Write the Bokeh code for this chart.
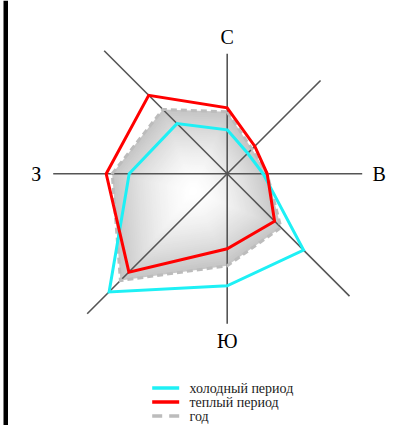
import numpy as np
from bokeh.plotting import figure
from bokeh.models import Range1d
from bokeh.core.properties import value
from bokeh.embed import file_html
from bokeh.resources import INLINE

# Directions (clockwise from north)
directions = ["С", "СВ", "В", "ЮВ", "Ю", "ЮЗ", "З", "СЗ"]
# Values read from the rose (relative units)
cold_period = [44, 29, 36, 108, 112, 167, 98, 71]
warm_period = [66, 39, 40, 67, 75, 139, 121, 111]
year_total = [62, 35, 40, 76, 92, 151, 115, 91]
# Length of each drawn axis ray
axis_len = [120, 132, 135, 173, 150, 198, 174, 174]
cardinal_labels = {0: "С", 2: "В", 4: "Ю", 6: "З"}
legend_labels = ["холодный период", "теплый период", "год"]

FONT = "Liberation Serif"

ang = np.deg2rad(90 - 45 * np.arange(len(directions)))


def to_xy(r):
    r = np.asarray(r, dtype=float)
    return list(r * np.cos(ang)), list(r * np.sin(ang))


# Window coordinates: center of the rose at (226.7, 173.3) px
cx_img, cy_img = 226.7, 173.3
W, H = 394, 425
x0 = 0 - cx_img
y1 = cy_img - 0
p = figure(width=W, height=H, output_backend="svg", toolbar_location=None,
           x_range=Range1d(x0, x0 + W), y_range=Range1d(y1 - H, y1),
           min_border=0, outline_line_color=None)
p.axis.visible = False
p.grid.visible = False
p.background_fill_color = "white"
p.border_fill_color = "white"

# black bar at left edge
p.quad(left=[x0 + 3], right=[x0 + 7.5], bottom=[y1 - H], top=[y1],
       fill_color="black", line_color=None)

# gradient fill of the annual polygon (layered shrinking copies)
yx, yy = to_xy(year_total)
gcx, gcy = -34.0, -17.0
n_layers = 40
for k in range(n_layers):
    s = 1.0 - k / n_layers
    t = s ** 1.6
    g = int(round(255 - (255 - 198) * t))
    col = "#%02x%02x%02x" % (g, g, g)
    xs = [gcx + s * (xv - gcx) for xv in yx]
    ys = [gcy + s * (yv - gcy) for yv in yy]
    p.patch(xs, ys, fill_color=col, line_color=None)

# axes rays
ax_x, ax_y = to_xy(axis_len)
p.segment(x0=[0] * len(ax_x), y0=[0] * len(ax_y), x1=ax_x, y1=ax_y,
          line_color="#555555", line_width=1.6)

# direction labels
lab_idx = list(cardinal_labels.keys())
lab_r = [axis_len[i] + 17 for i in lab_idx]
lx = [lab_r[j] * np.cos(ang[i]) for j, i in enumerate(lab_idx)]
ly = [lab_r[j] * np.sin(ang[i]) for j, i in enumerate(lab_idx)]
p.text(x=lx, y=ly, text=[cardinal_labels[i] for i in lab_idx],
       text_font=value(FONT), text_font_size="20px", text_color="black",
       text_align="center", text_baseline="middle")

# series
p.patch(yx, yy, fill_color=None, line_color="#bcbcbc", line_width=3,
        line_dash="6 4", line_join="miter")
cx_, cy_ = to_xy(cold_period)
p.patch(cx_, cy_, fill_color=None, line_color="#1ef0f5", line_width=3,
        line_join="miter")
wx_, wy_ = to_xy(warm_period)
p.patch(wx_, wy_, fill_color=None, line_color="#ff0000", line_width=3,
        line_join="miter")

# legend
leg_y_img = [387.5, 401.5, 415.5]
leg_y = [cy_img - v for v in leg_y_img]
lx0, lx1, tx = 151.7 - cx_img, 178.7 - cx_img, 189.0 - cx_img
p.segment(x0=[lx0], y0=[leg_y[0]], x1=[lx1], y1=[leg_y[0]],
          line_color="#1ef0f5", line_width=3.5)
p.segment(x0=[lx0], y0=[leg_y[1]], x1=[lx1], y1=[leg_y[1]],
          line_color="#ff0000", line_width=3.5)
p.segment(x0=[lx0], y0=[leg_y[2]], x1=[lx1], y1=[leg_y[2]],
          line_color="#bcbcbc", line_width=3.5, line_dash="10 7")
p.text(x=[tx] * 3, y=leg_y, text=legend_labels,
       text_font=value(FONT), text_font_size="14px", text_color="#222222",
       text_align="left", text_baseline="middle")

open("out.html", "w").write(file_html(p, INLINE))
